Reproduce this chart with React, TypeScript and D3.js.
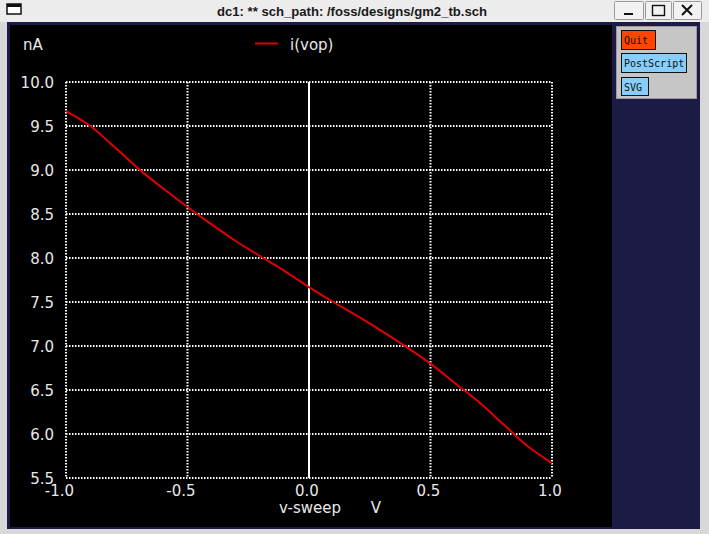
import React from "react";
import * as d3 from "d3";

const sweepV = [-1.0, -0.9, -0.8, -0.7, -0.6, -0.5, -0.4, -0.3, -0.2, -0.1, 0.0, 0.1, 0.2, 0.3, 0.4, 0.5, 0.6, 0.7, 0.8, 0.9, 1.0];
const iVop = [9.67, 9.50, 9.26, 9.01, 8.79, 8.58, 8.38, 8.19, 8.02, 7.85, 7.67, 7.50, 7.34, 7.17, 6.99, 6.80, 6.58, 6.36, 6.11, 5.86, 5.67];
const xTicks = [-1.0, -0.5, 0.0, 0.5, 1.0];
const yTicks = [10.0, 9.5, 9.0, 8.5, 8.0, 7.5, 7.0, 6.5, 6.0, 5.5];
const seriesName = "i(vop)";
const yUnit = "nA";
const xName = "v-sweep";
const xUnit = "V";
const windowTitle = "dc1: ** sch_path: /foss/designs/gm2_tb.sch";
const buttons = ["Quit", "PostScript", "SVG"];

export default function App() {
  const W = 709, H = 534;
  const x = d3.scaleLinear().domain([-1, 1]).range([66, 552]);
  const y = d3.scaleLinear().domain([5.5, 10]).range([478, 82]);
  const line = d3
    .line<number>()
    .x((_, i) => x(sweepV[i]))
    .y((d) => y(d))
    .curve(d3.curveCatmullRom.alpha(0.5));
  const txt = "#e8e8e8";
  const font = "DejaVu Sans, sans-serif";
  const mono = "DejaVu Sans Mono, monospace";
  const btnColors = ["#ff4500", "#87cefa", "#87cefa"];
  const btnBoxes = [
    { x: 621, y: 30, w: 34, h: 19 },
    { x: 621, y: 53, w: 65, h: 19 },
    { x: 621, y: 77, w: 27, h: 18 },
  ];
  return (
    <svg
      width={W}
      height={H}
      style={{ position: "fixed", left: 0, top: 0, display: "block" }}
    >
      {/* window chrome */}
      <rect x={0} y={0} width={W} height={H} fill="#d8d8d8" />
      <rect x={0} y={0} width={W} height={22} fill="#ececec" />
      <rect x={7} y={4} width={14} height={10} fill="#fff" stroke="#111" strokeWidth={1.5} />
      <rect x={7} y={4} width={14} height={3} fill="#111" />
      <text x={352} y={16} textAnchor="middle" fontFamily="Liberation Sans, sans-serif" fontSize={13} fontWeight={600} fill="#1a1a1a" textLength={270} lengthAdjust="spacingAndGlyphs">
        {windowTitle}
      </text>
      {[{ x: 614, w: 29 }, { x: 645, w: 26 }, { x: 673, w: 28 }].map((b, i) => (
        <rect key={i} x={b.x + 0.5} y={1.5} width={b.w} height={18} fill="#f2f2f2" stroke="#9a9a9a" rx={1} />
      ))}
      <line x1={624} x2={633} y1={14} y2={14} stroke="#111" strokeWidth={2} />
      <rect x={652.5} y={5.5} width={12} height={10} fill="none" stroke="#111" strokeWidth={1.4} />
      <path d="M682,5 L692,15 M692,5 L682,15" stroke="#111" strokeWidth={2} />

      {/* frame */}
      <rect x={7} y={22} width={693} height={507} fill="#1b1b45" />
      <rect x={10} y={25} width={602} height={502} fill="#000" />

      {/* right panel */}
      <rect x={616.5} y={26.5} width={80} height={72} fill="#c6c6c6" stroke="#9a9a9a" />
      {buttons.map((b, i) => (
        <g key={b}>
          <rect x={btnBoxes[i].x + 0.5} y={btnBoxes[i].y + 0.5} width={btnBoxes[i].w} height={btnBoxes[i].h} fill={btnColors[i]} stroke="#111" />
          <text x={btnBoxes[i].x + 3} y={btnBoxes[i].y + 14} fontFamily={mono} fontSize={10} fill="#111">
            {b}
          </text>
        </g>
      ))}

      {/* grid */}
      {yTicks.map((t) => (
        <line key={"h" + t} x1={x(-1)} x2={x(1)} y1={y(t)} y2={y(t)} stroke="#fff" strokeWidth={2} strokeDasharray="1.5,1.5" />
      ))}
      {xTicks.map((t) =>
        t === 0 ? (
          <line key={"v" + t} x1={x(t)} x2={x(t)} y1={y(10)} y2={y(5.5)} stroke="#fff" strokeWidth={2} />
        ) : (
          <line key={"v" + t} x1={x(t)} x2={x(t)} y1={y(10)} y2={y(5.5)} stroke="#fff" strokeWidth={2} strokeDasharray="1.5,1.5" />
        )
      )}

      {/* axis labels */}
      {yTicks.map((t) => (
        <text key={"yl" + t} x={54} y={y(t) + 5.5} textAnchor="end" fontFamily={font} fontSize={15} fill={txt}>
          {t.toFixed(1)}
        </text>
      ))}
      {xTicks.map((t) => (
        <text key={"xl" + t} x={x(t) - 2 - (t < 0 ? 4.5 : 0)} y={496} textAnchor="middle" fontFamily={font} fontSize={15} fill={txt}>
          {t.toFixed(1)}
        </text>
      ))}
      <text x={23} y={50} fontFamily={font} fontSize={15} fill={txt}>{yUnit}</text>
      <text x={310} y={513} textAnchor="middle" fontFamily={font} fontSize={15} fill={txt}>{xName}</text>
      <text x={376} y={513} textAnchor="middle" fontFamily={font} fontSize={15} fill={txt}>{xUnit}</text>

      {/* legend */}
      <line x1={255} x2={278} y1={43.5} y2={43.5} stroke="#e00000" strokeWidth={2} />
      <text x={290} y={50} fontFamily={font} fontSize={15} fill={txt}>{seriesName}</text>

      {/* series */}
      <path d={line(iVop) || ""} fill="none" stroke="#e00000" strokeWidth={2} />
    </svg>
  );
}
